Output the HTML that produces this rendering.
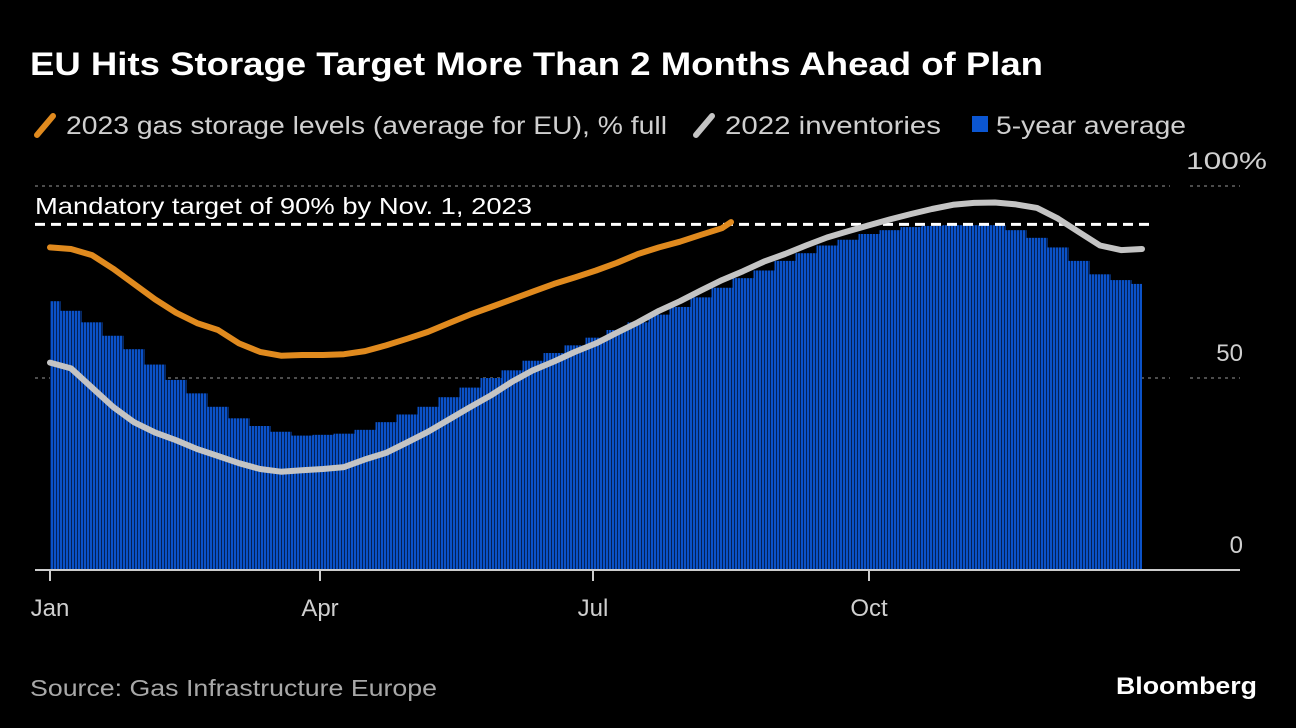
<!DOCTYPE html>
<html><head><meta charset="utf-8"><style>
html,body{margin:0;padding:0;background:#000;}
svg{display:block;font-family:"Liberation Sans",sans-serif;}
</style></head><body>
<svg id="chart" width="1296" height="728" viewBox="0 0 1296 728">
<defs>
<pattern id="stripes" patternUnits="userSpaceOnUse" width="3" height="10">
<rect width="3" height="10" fill="#0b52c8"/><rect x="2.2" width="0.8" height="10" fill="#02153a"/>
</pattern>
</defs>
<rect width="1296" height="728" fill="#000"/>
<text x="30" y="75" font-size="32" font-weight="bold" fill="#fff" textLength="1013" lengthAdjust="spacingAndGlyphs">EU Hits Storage Target More Than 2 Months Ahead of Plan</text>
<g>
<line x1="37" y1="135" x2="53" y2="116" stroke="#e08a1e" stroke-width="6" stroke-linecap="round"/>
<text x="66" y="134" font-size="25" fill="#cfcfcf" textLength="601" lengthAdjust="spacingAndGlyphs">2023 gas storage levels (average for EU), % full</text>
<line x1="696" y1="135" x2="712" y2="116" stroke="#c4c4c4" stroke-width="6" stroke-linecap="round"/>
<text x="725" y="134" font-size="25" fill="#cfcfcf" textLength="216" lengthAdjust="spacingAndGlyphs">2022 inventories</text>
<rect x="972" y="116" width="16" height="16" fill="#0b56d2"/>
<text x="996" y="134" font-size="25" fill="#cfcfcf" textLength="190" lengthAdjust="spacingAndGlyphs">5-year average</text>
</g>
<g id="grid"></g>
<g id="bars"></g>
<g id="lines"></g>
<g id="axes"></g>
<text x="35" y="214" font-size="23" fill="#fff" textLength="497" lengthAdjust="spacingAndGlyphs">Mandatory target of 90% by Nov. 1, 2023</text>
<text x="30" y="696" font-size="23" fill="#a8a8a8" textLength="407" lengthAdjust="spacingAndGlyphs">Source: Gas Infrastructure Europe</text>
<text x="1116" y="694" font-size="24" font-weight="bold" fill="#fff" textLength="141" lengthAdjust="spacingAndGlyphs">Bloomberg</text>
</svg>
<script>
const avgValues = [70,67.5,64.5,61,57.5,53.5,49.5,46,42.5,39.5,37.5,36,35,35.2,35.5,36.5,38.5,40.5,42.5,45,47.5,50,52,54.5,56.5,58.5,60.5,62.5,64.5,66.5,68.5,71,73.5,76,78,80.5,82.5,84.5,86,87.5,88.5,89.3,89.6,89.8,89.8,89.8,88.5,86.5,84,80.5,77,75.5,74.5];
const avgDays = avgValues.map((v,i)=>i*7);
const v2023 = [84,83.6,82,78.5,74.5,70.5,67,64.3,62.5,59,56.8,55.8,56,56,56.2,57,58.5,60.2,62,64.3,66.5,68.5,70.5,72.5,74.5,76.2,78,80,82.3,84,85.5,87.3,89,90.6];
const days2023 = [0,7,14,21,28,35,42,49,56,63,70,77,84,91,98,105,112,119,126,133,140,147,154,161,168,175,182,189,196,203,210,217,224,227];
const v2022 = [54,52.5,47.5,42.5,38.5,35.8,33.8,31.5,29.7,27.8,26.3,25.6,26,26.3,26.8,28.8,30.5,33.2,36,39.2,42.4,45.5,49,52,54.3,56.8,59,61.8,64.5,67.5,70,72.8,75.5,77.8,80.3,82.3,84.5,86.6,88.2,89.8,91.3,92.7,94,95.1,95.6,95.7,95.2,94.3,91.5,88,84.5,83.3,83.6];
const days2022 = v2022.map((v,i)=>Math.min(i*7,364));
const yTicks = [0,50,100];
const yTickLabels = ["0","50","100%"];
const xTickDays = [0,90,181,273];
const xTickLabels = ["Jan","Apr","Jul","Oct"];
const target = 90;

const NS="http://www.w3.org/2000/svg";
const x = d => 50 + d*3.0;
const y = v => 570 - v*3.84;
function mk(tag, attrs, parent){const e=document.createElementNS(NS,tag);for(const k in attrs)e.setAttribute(k,attrs[k]);parent.appendChild(e);return e;}
const grid=document.getElementById('grid'), bars=document.getElementById('bars'), lines=document.getElementById('lines'), axes=document.getElementById('axes');

yTicks.forEach((t,i)=>{
  if(t>0){
    const g=mk('line',{x1:35,x2:1170,y1:y(t),y2:y(t),stroke:'#666','stroke-width':1.5,'stroke-dasharray':'3 4'},grid);
    
    
    const g2=mk('line',{x1:1190,x2:1240,y1:y(t),y2:y(t),stroke:'#666','stroke-width':1.5,'stroke-dasharray':'3 4'},grid);
    
    
  }
  const tx=mk('text',{x:1243,y:y(t)-17,'font-size':24,fill:'#cfcfcf','text-anchor':'start'},axes);
  tx.textContent=yTickLabels[i];
  if(t===100){tx.setAttribute('x',1186);tx.setAttribute('textLength',81);tx.setAttribute('lengthAdjust','spacingAndGlyphs');}
  else{tx.setAttribute('x',1243);tx.setAttribute('text-anchor','end');}
  
  
});

avgValues.forEach((v,i)=>{
  let x0=x(avgDays[i]-3.5), x1=x(avgDays[i]+3.5);
  x0=Math.max(x0,50); x1=Math.min(x1,1142);
  const r=mk('rect',{x:x0,y:y(v),width:x1-x0,height:y(0)-y(v),fill:'url(#stripes)'},bars);
  
  
});

const tl=mk('line',{x1:35,x2:1155,y1:y(target),y2:y(target),stroke:'#fff','stroke-width':3,'stroke-dasharray':'10 6'},lines);



function path(days,vals){return days.map((d,i)=>(i?'L':'M')+x(d).toFixed(1)+','+y(vals[i]).toFixed(1)).join(' ');}
const p22=mk('path',{d:path(days2022,v2022),fill:'none',stroke:'#c4c4c4','stroke-width':6,'stroke-linejoin':'round','stroke-linecap':'round'},lines);


const p23=mk('path',{d:path(days2023,v2023),fill:'none',stroke:'#e08a1e','stroke-width':6,'stroke-linejoin':'round','stroke-linecap':'round'},lines);



const ax=mk('line',{x1:35,x2:1240,y1:570,y2:570,stroke:'#ccc','stroke-width':2},axes);


xTickDays.forEach((d,i)=>{
  const tk=mk('line',{x1:x(d),x2:x(d),y1:570,y2:581,stroke:'#ccc','stroke-width':2},axes);
  
  
  const tt=mk('text',{x:x(d),y:616,'font-size':24,fill:'#cfcfcf','text-anchor':'middle'},axes);
  tt.textContent=xTickLabels[i];
  
  
});
</script>
</body></html>
